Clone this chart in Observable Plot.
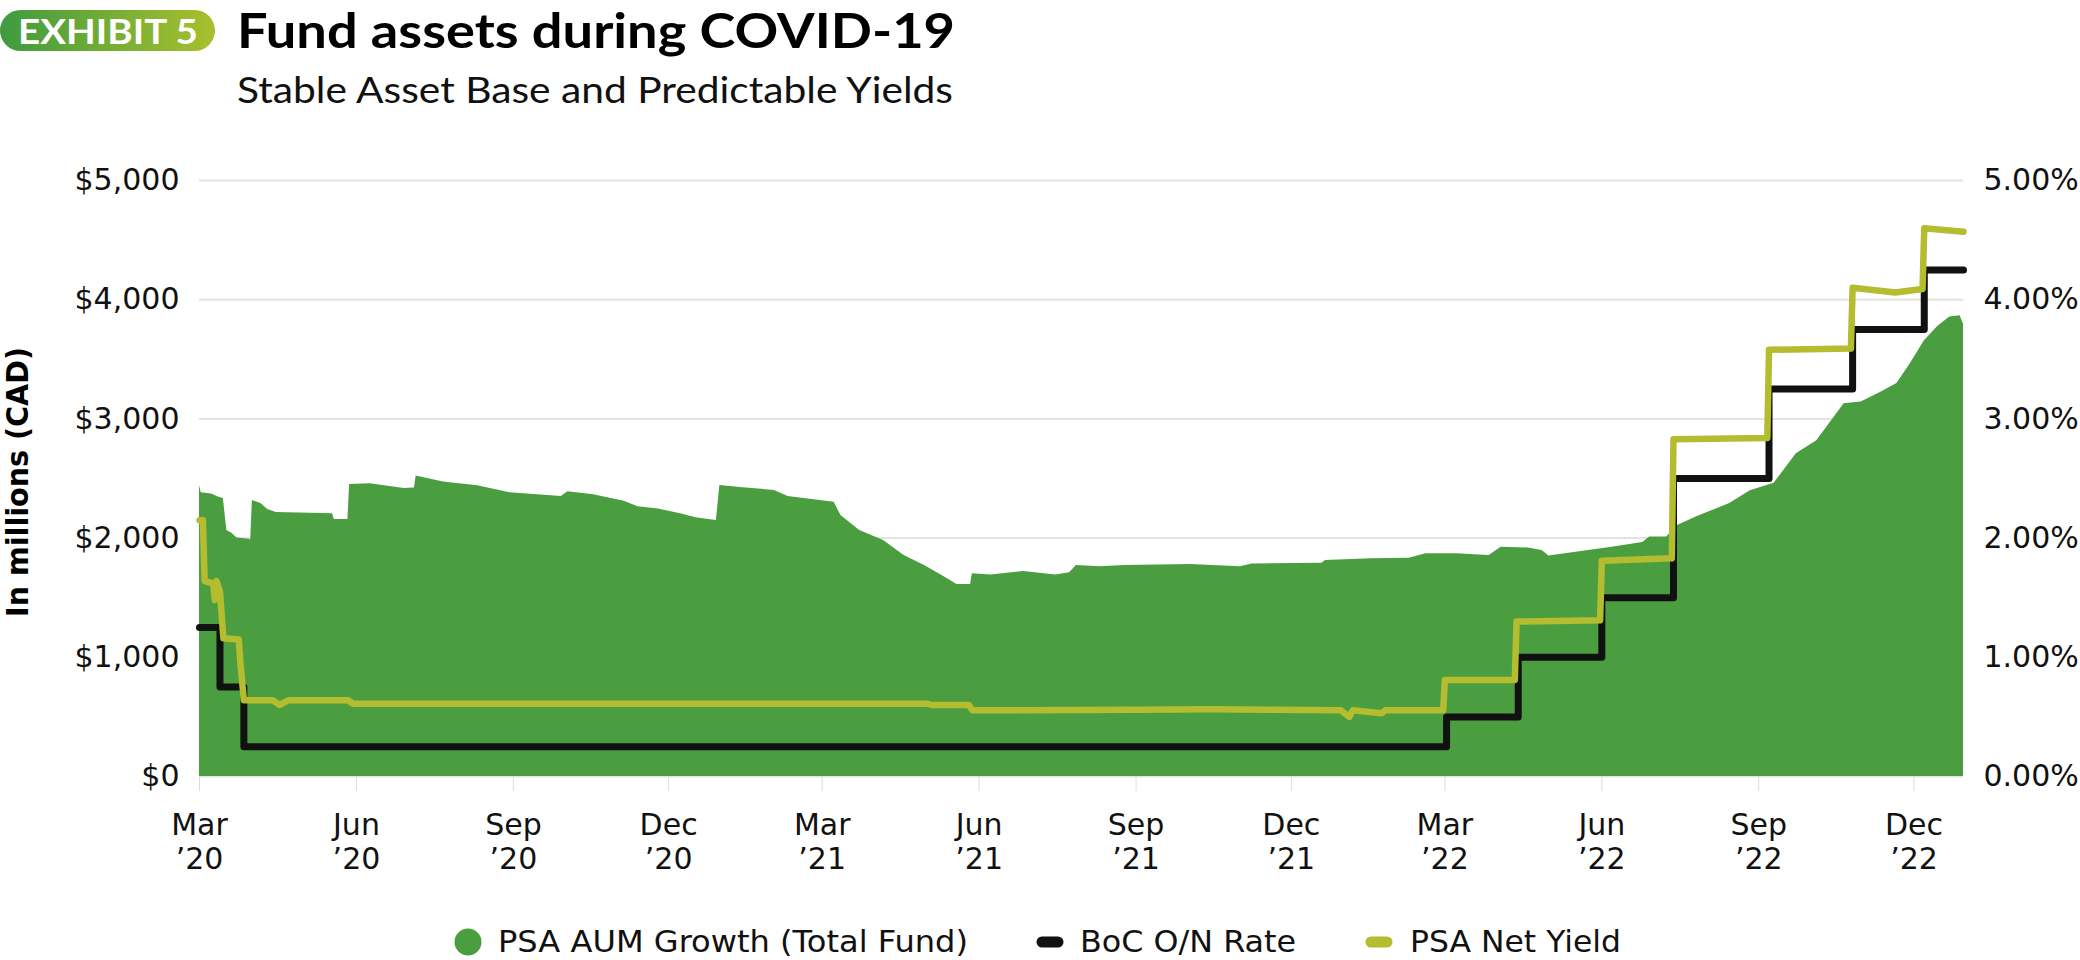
<!DOCTYPE html>
<html>
<head>
<meta charset="utf-8">
<script src="https://cdn.jsdelivr.net/npm/d3@7"></script>
<script src="https://cdn.jsdelivr.net/npm/@observablehq/plot@0.6"></script>
<style>
  html, body { margin: 0; padding: 0; background: #fff; }
  #wrap { position: relative; width: 2080px; height: 960px; overflow: hidden; font-family: "DejaVu Sans", sans-serif; }
  #chart { position: absolute; left: 0; top: 0; }
  #overlay { position: absolute; left: 0; top: 0; pointer-events: none; }
</style>
</head>
<body>
<div id="wrap">
  <div id="chart"></div>
  <svg id="overlay" width="2080" height="960"></svg>
</div>
<script>
// ---------- DATA ----------
const aumDates = [
  "2020-03-01","2020-03-02","2020-03-08","2020-03-12","2020-03-15","2020-03-17","2020-03-20","2020-03-23","2020-03-30","2020-03-31",
  "2020-04-01","2020-04-06","2020-04-10","2020-04-15","2020-05-18","2020-05-19","2020-05-27","2020-05-28","2020-06-09","2020-06-29",
  "2020-07-05","2020-07-06","2020-07-22","2020-08-11","2020-08-30","2020-09-29","2020-10-03","2020-10-18","2020-11-05","2020-11-13",
  "2020-11-25","2020-12-08","2020-12-17","2020-12-29","2020-12-31","2021-01-12","2021-02-01","2021-02-09","2021-03-08","2021-03-12",
  "2021-03-23","2021-04-06","2021-04-18","2021-04-30","2021-05-12","2021-05-19","2021-05-27","2021-05-28","2021-06-08","2021-06-27",
  "2021-07-16","2021-07-24","2021-07-28","2021-08-11","2021-08-25","2021-10-03","2021-11-01","2021-11-08","2021-12-19","2021-12-21",
  "2022-01-17","2022-02-08","2022-02-18","2022-03-08","2022-03-27","2022-04-03","2022-04-19","2022-04-27","2022-05-01","2022-05-19",
  "2022-06-07","2022-06-25","2022-06-29","2022-07-09","2022-07-15","2022-07-27","2022-08-15","2022-08-27","2022-09-10","2022-09-23",
  "2022-10-05","2022-10-13","2022-10-21","2022-10-31","2022-11-11","2022-11-21","2022-11-29","2022-12-07","2022-12-15","2022-12-22",
  "2022-12-28","2022-12-30"
];
const aumValues = [
  2441,2380,2370,2345,2332,2064,2040,2000,1990,1985,
  2315,2290,2240,2215,2205,2155,2155,2450,2455,2416,
  2420,2520,2470,2440,2380,2350,2388,2363,2310,2262,
  2245,2205,2170,2148,2441,2425,2400,2350,2300,2190,
  2064,1980,1854,1770,1672,1611,1611,1700,1690,1720,
  1690,1710,1770,1760,1770,1778,1760,1783,1788,1812,
  1826,1832,1868,1868,1855,1924,1917,1896,1849,1886,
  1923,1963,2010,2010,2103,2181,2290,2398,2460,2708,
  2816,2971,3127,3142,3220,3297,3467,3653,3778,3855,
  3865,3794
];

const bocDates = ["2020-03-01","2020-03-13","2020-03-27","2022-03-02","2022-04-13","2022-06-01","2022-07-13","2022-09-07","2022-10-26","2022-12-07","2022-12-30"];
const bocRates = [1.25,0.75,0.25,0.50,1.00,1.50,2.50,3.25,3.75,4.25,4.25];

const yieldDates = [
  "2020-03-01","2020-03-03","2020-03-04","2020-03-09","2020-03-10","2020-03-11","2020-03-13","2020-03-15","2020-03-24","2020-03-25",
  "2020-03-27","2020-04-13","2020-04-17","2020-04-22","2020-05-27","2020-05-30","2021-05-02","2021-05-04","2021-05-26","2021-05-28",
  "2021-09-01","2021-10-15","2021-12-30","2022-01-04","2022-01-06","2022-01-23","2022-01-25","2022-02-28","2022-03-01","2022-04-11",
  "2022-04-12","2022-05-31","2022-06-01","2022-07-12","2022-07-13","2022-09-06","2022-09-07","2022-10-25","2022-10-26","2022-11-20",
  "2022-12-06","2022-12-07","2022-12-30"
];
const yieldRates = [
  2.15,2.15,1.64,1.62,1.48,1.64,1.55,1.16,1.15,0.95,
  0.64,0.64,0.60,0.64,0.64,0.61,0.61,0.60,0.60,0.555,
  0.56,0.565,0.555,0.50,0.555,0.53,0.555,0.555,0.81,0.81,
  1.30,1.31,1.81,1.83,2.83,2.84,3.58,3.59,4.10,4.06,
  4.09,4.60,4.57
];

const xTicks = ["2020-03-01","2020-06-01","2020-09-01","2020-12-01","2021-03-01","2021-06-01","2021-09-01","2021-12-01","2022-03-01","2022-06-01","2022-09-01","2022-12-01"];
const yTicks = [0,1000,2000,3000,4000,5000];

const seriesNames = ["PSA AUM Growth (Total Fund)","BoC O/N Rate","PSA Net Yield"];
const seriesColors = ["#4a9e3f","#111111","#b4bc2f"];

// ---------- TABLES ----------
const aum = aumDates.map((d,i) => ({date: new Date(d), value: aumValues[i]}));
const boc = bocDates.map((d,i) => ({date: new Date(d), rate: bocRates[i]}));
const net = yieldDates.map((d,i) => ({date: new Date(d), rate: yieldRates[i]}));
const xTickDates = xTicks.map(d => new Date(d));

const fmtMon = d3.utcFormat("%b"), fmtYr = d3.utcFormat("%y");

const chart = Plot.plot({
  width: 2080,
  height: 960,
  marginTop: 180,
  marginBottom: 184,
  marginLeft: 199,
  marginRight: 117,
  style: {fontFamily: "DejaVu Sans, sans-serif", fontSize: "30px", color: "#111", background: "transparent"},
  x: {type: "utc", domain: [new Date("2020-03-01"), new Date("2022-12-30")]},
  y: {domain: [0, 5000]},
  marks: [
    Plot.gridY(yTicks, {stroke: "#e3e3e3", strokeOpacity: 1, strokeWidth: 2}),
    Plot.areaY(aum, {x: "date", y: "value", fill: seriesColors[0]}),
    Plot.line(boc, {x: "date", y: d => d.rate * 1000, stroke: seriesColors[1], strokeWidth: 7, curve: "step-after"}),
    Plot.line(net, {x: "date", y: d => d.rate * 1000, stroke: seriesColors[2], strokeWidth: 6.5}),
    Plot.axisY(yTicks, {anchor: "left", tickSize: 0, tickPadding: 20, fontSize: 30, label: null,
      tickFormat: d => "$" + d3.format(",")(d)}),
    Plot.axisY(yTicks, {anchor: "right", tickSize: 0, tickPadding: 20, fontSize: 30, label: null,
      tickFormat: d => (d / 1000).toFixed(2) + "%"}),
    Plot.axisX(xTickDates, {tickSize: 15, tickPadding: 20, stroke: "#dcdcdc", fontSize: 30, lineHeight: 1.12, label: null,
      tickFormat: d => fmtMon(d) + "\n\u2019" + fmtYr(d)})
  ]
});
document.getElementById("chart").appendChild(chart);

// ---------- HEADER / LABEL / LEGEND ----------
const ov = d3.select("#overlay");
const defs = ov.append("defs");
const grad = defs.append("linearGradient").attr("id", "badge").attr("x1", "0").attr("x2", "1").attr("y1", "0").attr("y2", "0");
grad.append("stop").attr("offset", "0%").attr("stop-color", "#3f9a3f");
grad.append("stop").attr("offset", "100%").attr("stop-color", "#a9c02c");
ov.append("rect").attr("x", 0).attr("y", 10).attr("width", 215).attr("height", 41).attr("rx", 20.5).attr("fill", "url(#badge)");
ov.append("text").attr("x", 18).attr("y", 43.5).attr("fill", "#fff").attr("font-family", "Lato, sans-serif")
  .attr("font-weight", "bold").attr("font-size", 35)
  .attr("textLength", 180).attr("lengthAdjust", "spacingAndGlyphs").text("EXHIBIT 5");
ov.append("text").attr("x", 237).attr("y", 48).attr("fill", "#000").attr("font-family", "Lato, sans-serif")
  .attr("font-weight", "bold").attr("font-size", 48)
  .attr("textLength", 718).attr("lengthAdjust", "spacingAndGlyphs").text("Fund assets during COVID-19");
ov.append("text").attr("x", 237).attr("y", 103).attr("fill", "#111").attr("font-family", "Lato, sans-serif")
  .attr("font-size", 37)
  .attr("textLength", 716).attr("lengthAdjust", "spacingAndGlyphs").text("Stable Asset Base and Predictable Yields");
ov.append("text").attr("transform", "translate(28,482) rotate(-90)").attr("text-anchor", "middle")
  .attr("fill", "#000").attr("font-weight", "bold").attr("font-size", 30)
  .attr("textLength", 270).attr("lengthAdjust", "spacingAndGlyphs").text("In millions (CAD)");

// legend
const lg = ov.append("g");
lg.append("circle").attr("cx", 468).attr("cy", 942).attr("r", 13.5).attr("fill", seriesColors[0]);
lg.append("line").attr("x1", 1042).attr("x2", 1058).attr("y1", 942).attr("y2", 942)
  .attr("stroke", seriesColors[1]).attr("stroke-width", 11).attr("stroke-linecap", "round");
lg.append("line").attr("x1", 1371).attr("x2", 1387).attr("y1", 942).attr("y2", 942)
  .attr("stroke", seriesColors[2]).attr("stroke-width", 11).attr("stroke-linecap", "round");
const legendX = [498, 1080, 1410], legendW = [470, 216, 211];
seriesNames.forEach((n, i) => {
  lg.append("text").attr("x", legendX[i]).attr("y", 952).attr("fill", "#111").attr("font-size", 30)
    .attr("textLength", legendW[i]).attr("lengthAdjust", "spacingAndGlyphs").text(n);
});
</script>
</body>
</html>
